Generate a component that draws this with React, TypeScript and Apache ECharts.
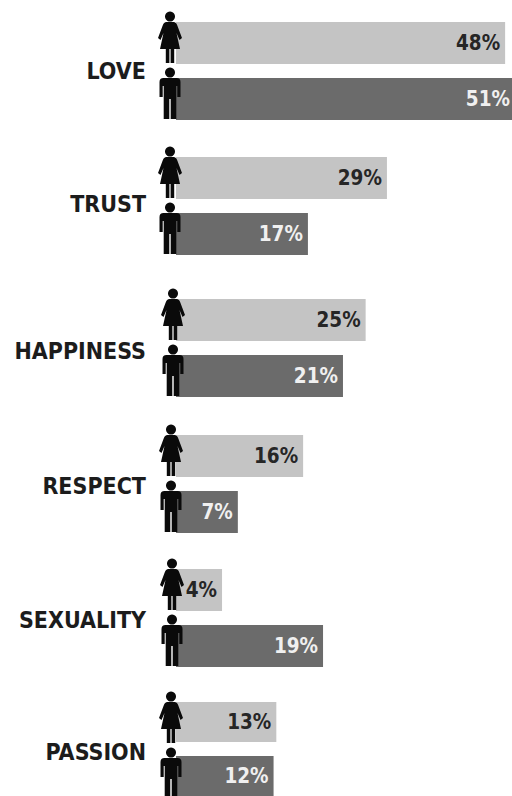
import React, { useEffect, useRef } from "react";
import * as echarts from "echarts";

const categories = ["LOVE", "TRUST", "HAPPINESS", "RESPECT", "SEXUALITY", "PASSION"];
// Percentages printed on the bars.
const womenLabels = [48, 29, 25, 16, 4, 13];
const menLabels = [51, 17, 21, 7, 19, 12];
// Bar lengths as drawn in the picture, which are not proportional to the printed
// percentages. Unit: the length of the 48% bar is 48. The 51% bar runs off the page.
const womenLengths = [47.9, 30.7, 27.6, 18.5, 6.7, 14.6];
const menLengths = [48.9, 19.2, 24.3, 9.0, 21.4, 14.2];

// Layout of the six small panels.
const panelTops = [22, 157, 299, 435, 569, 702];
const iconCentres = [170, 170, 173, 171, 172, 171];
const labelPadding = [
  [0, 0, 0, 0],
  [0, 0, 4, 0],
  [6, 0, 0, 0],
  [4, 0, 0, 0],
  [4, 0, 0, 0],
  [6, 0, 0, 0],
];
const PANEL_LEFT = 176;
const PANEL_WIDTH = 336;
const PANEL_HEIGHT = 98;
const AXIS_MAX = 48.9;
const BAR_HEIGHT = 42;
const ICON_RISE = 10;
const MEN_ROW_OFFSET = 56;

const FONT = "'DejaVu Sans Condensed', 'DejaVu Sans', sans-serif";
const WOMAN =
  "M12 -0.4a5 5 0 1 0 .01 0zM8 10L16 10Q18.5 10.5 19.5 14L24 26L21.5 28L18.5 21L22 37L16.2 37L16.2 51L12.6 51L12.6 37L11.4 37L11.4 51L7.8 51L7.8 37L2 37L5.5 21L2.5 28L0 26L4.5 14Q5.5 10.5 8 10Z";
const MAN =
  "M10.5 -0.4a5 5 0 1 0 .01 0zM4 10L17 10Q21 10 21 14L21 29L17.8 29L17.8 18L16.8 18L16.8 51L11.2 51L11.2 31L9.8 31L9.8 51L4.2 51L4.2 18L3.2 18L3.2 29L0 29L0 14Q0 10 4 10Z";

echarts.graphic.registerShape("womanIcon", (echarts.graphic as any).extendPath(WOMAN, {}));
echarts.graphic.registerShape("manIcon", (echarts.graphic as any).extendPath(MAN, {}));

export default function App() {
  const ref = useRef<HTMLDivElement>(null);
  useEffect(() => {
    const chart = echarts.init(ref.current!, undefined, { renderer: "svg" });
    const grid = categories.map((_, i) => ({
      left: PANEL_LEFT,
      top: panelTops[i],
      width: PANEL_WIDTH,
      height: PANEL_HEIGHT,
    }));
    const xAxis = categories.map((_, i) => ({
      type: "value" as const,
      gridIndex: i,
      min: 0,
      max: AXIS_MAX,
      show: false,
    }));
    const yAxis = categories.map((name, i) => ({
      type: "category" as const,
      gridIndex: i,
      data: [name],
      inverse: true,
      axisLine: { show: false },
      axisTick: { show: false },
      axisLabel: {
        margin: 30,
        formatter: "{name|{value}}",
        rich: {
          name: {
            padding: labelPadding[i],
            color: "#1c1c1c",
            fontFamily: FONT,
            fontWeight: "bold" as const,
            fontSize: 23,
          },
        },
      },
    }));
    const bar = (i: number, name: string, value: number, label: number, color: string, text: string) => ({
      type: "bar" as const,
      name,
      xAxisIndex: i,
      yAxisIndex: i,
      data: [value],
      barWidth: BAR_HEIGHT,
      barGap: "33.3%",
      itemStyle: { color },
      label: {
        show: true,
        position: "insideRight" as const,
        distance: value >= AXIS_MAX ? 2 : 5,
        formatter: `${label}%`,
        color: text,
        fontFamily: FONT,
        fontWeight: "bold" as const,
        fontSize: 20.5,
      },
    });
    const series = categories.flatMap((_, i) => [
      bar(i, "Women", womenLengths[i], womenLabels[i], "#c4c4c4", "#262626"),
      bar(i, "Men", menLengths[i], menLabels[i], "#6b6b6b", "#f0f0f0"),
    ]);
    const graphic = categories.flatMap((_, i) => [
      {
        type: "womanIcon",
        x: iconCentres[i] - 12,
        y: panelTops[i] - ICON_RISE,
        z: 10,
        style: { fill: "#0a0a0a" },
      },
      {
        type: "manIcon",
        x: iconCentres[i] - 10.5,
        y: panelTops[i] + MEN_ROW_OFFSET - ICON_RISE,
        z: 10,
        style: { fill: "#0a0a0a" },
      },
    ]);
    chart.setOption({
      animation: false,
      backgroundColor: "#ffffff",
      grid,
      xAxis,
      yAxis,
      series,
      graphic,
    } as any);
    return () => chart.dispose();
  }, []);
  return <div ref={ref} style={{ position: "fixed", left: 0, top: 0, width: 512, height: 796 }} />;
}
